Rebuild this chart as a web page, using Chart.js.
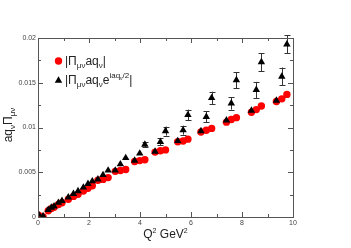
<!DOCTYPE html>
<html>
<head>
<meta charset="utf-8">
<script src="https://cdn.jsdelivr.net/npm/chart.js@4"></script>
<style>
html,body{margin:0;padding:0;background:#fff;}
#c{display:block;}
</style>
</head>
<body>
<canvas id="c" width="351" height="248"></canvas>
<script>
// Q^2 values (GeV^2)
const q2 = [0.02, 0.2, 0.4, 0.52, 0.63, 0.8, 0.94, 1.19, 1.39, 1.57, 1.78, 1.96, 2.13, 2.35, 2.55, 2.75,
  3.03, 3.23, 3.44, 3.79, 3.99, 4.19, 4.59, 4.8, 5.0, 5.48, 5.69, 5.88, 6.39, 6.6, 6.81,
  7.39, 7.58, 7.78, 8.37, 8.56, 8.76, 9.35, 9.56, 9.76];
// |Pi_mu_nu a q_nu|
const absPiAq = [0.0002, 0.0000, 0.0007, 0.00094, 0.0011, 0.0014, 0.0016, 0.00198, 0.0023, 0.00254, 0.0029, 0.0032,
  0.0035, 0.0041, 0.0042, 0.0044, 0.0051, 0.0052, 0.0053, 0.0062, 0.0063, 0.0064, 0.00725, 0.0074, 0.0075,
  0.0084, 0.0085, 0.0087, 0.0095, 0.0097, 0.0099, 0.0106, 0.0109, 0.0111, 0.0117, 0.0120, 0.0124,
  0.0129, 0.0132, 0.0137];
// |Pi_mu_nu a q_nu e^{i a q_nu / 2}|
const absPiAqPhase = [0.0003, 0.0001, 0.0008, 0.00105, 0.0012, 0.0016, 0.0018, 0.0022, 0.0026, 0.0029, 0.0033, 0.0037,
  0.0040, 0.0042, 0.0047, 0.0052, 0.0052, 0.0059, 0.0066, 0.0063, 0.0071, 0.0081, 0.0073, 0.0084, 0.0096,
  0.0085, 0.0097, 0.0114, 0.0096, 0.0112, 0.0133, 0.0108, 0.0127, 0.0153, 0.0119, 0.0142, 0.0173,
  0.0130, 0.0157, 0.0193];
// error of the phase-corrected values
const absPiAqPhaseErr = [0.0001, 0.0001, 0.0001, 0.0001, 0.0001, 0.0001, 0.0001, 0.0001, 0.0001, 0.0001, 0.0001, 0.0001,
  0.0001, 0.0001, 0.0001, 0.0001, 0.0001, 0.0002, 0.0002, 0.0001, 0.0002, 0.0003, 0.0001, 0.0004, 0.0005,
  0.0002, 0.0005, 0.0006, 0.0002, 0.0006, 0.0007, 0.0002, 0.0007, 0.0009, 0.0002, 0.0009, 0.0010,
  0.0002, 0.0010, 0.0010];
const xTicks = [0, 2, 4, 6, 8, 10];
const yTicks = [0, 0.005, 0.01, 0.015, 0.02];
const yTickLabels = ['0', '0.005', '0.01', '0.015', '0.02'];

const FONT = '"Liberation Sans", Arial, Helvetica, sans-serif';

function drawRich(ctx, parts, x, y, align) {
  let w = 0;
  parts.forEach(p => { ctx.font = p.size + 'px ' + FONT; w += ctx.measureText(p.t).width; });
  let cx = align === 'center' ? x - w / 2 : x;
  ctx.textAlign = 'left';
  ctx.textBaseline = 'alphabetic';
  parts.forEach(p => {
    ctx.font = p.size + 'px ' + FONT;
    ctx.fillText(p.t, cx, y + (p.dy || 0));
    cx += ctx.measureText(p.t).width;
  });
}

const deco = {
  id: 'deco',
  beforeDatasetsDraw(chart) {
    const ctx = chart.ctx, xs = chart.scales.x, ys = chart.scales.y;
    ctx.save();
    ctx.strokeStyle = '#333';
    ctx.lineWidth = 1;
    for (let i = 0; i < q2.length; i++) {
      const px = Math.round(xs.getPixelForValue(q2[i])) + 0.5;
      const y1 = ys.getPixelForValue(absPiAqPhase[i] + absPiAqPhaseErr[i]);
      const y2 = ys.getPixelForValue(absPiAqPhase[i] - absPiAqPhaseErr[i]);
      if (y2 - y1 < 4) continue;
      ctx.beginPath();
      ctx.moveTo(px, y1); ctx.lineTo(px, y2);
      ctx.moveTo(px - 3, Math.round(y1) + 0.5); ctx.lineTo(px + 3, Math.round(y1) + 0.5);
      ctx.moveTo(px - 3, Math.round(y2) + 0.5); ctx.lineTo(px + 3, Math.round(y2) + 0.5);
      ctx.stroke();
    }
    ctx.restore();
  },
  afterDraw(chart) {
    const ctx = chart.ctx, a = chart.chartArea, xs = chart.scales.x, ys = chart.scales.y;
    ctx.save();
    // frame
    ctx.strokeStyle = '#555';
    ctx.lineWidth = 1;
    ctx.strokeRect(Math.round(a.left) + 0.5, Math.round(a.top) + 0.5,
      Math.round(a.right - a.left), Math.round(a.bottom - a.top));
    // inner ticks
    ctx.beginPath();
    for (let v = 0; v <= 10; v += 1) {
      const px = Math.round(xs.getPixelForValue(v)) + 0.5;
      const L = v % 2 === 0 ? 5 : 3;
      ctx.moveTo(px, a.bottom); ctx.lineTo(px, a.bottom - L);
      ctx.moveTo(px, a.top); ctx.lineTo(px, a.top + L);
    }
    for (let k = 0; k <= 8; k++) {
      const v = k * 0.0025;
      const py = Math.round(ys.getPixelForValue(v)) + 0.5;
      const L = k % 2 === 0 ? 5 : 3;
      ctx.moveTo(a.left, py); ctx.lineTo(a.left + L, py);
      ctx.moveTo(a.right, py); ctx.lineTo(a.right - L, py);
    }
    ctx.stroke();

    ctx.fillStyle = '#222';
    // x title
    drawRich(ctx, [
      {t: 'Q', size: 12}, {t: '2', size: 7, dy: -5}, {t: ' GeV', size: 12}, {t: '2', size: 7, dy: -5}
    ], (a.left + a.right) / 2, 238, 'center');
    // y title
    ctx.save();
    ctx.translate(9, 125);
    ctx.rotate(-Math.PI / 2);
    drawRich(ctx, [
      {t: 'aq', size: 12}, {t: 'ν', size: 8, dy: 3}, {t: 'Π', size: 12}, {t: 'μν', size: 8, dy: 3}
    ], 0, 3, 'center');
    ctx.restore();

    // legend
    ctx.fillStyle = '#ff0000';
    ctx.beginPath();
    ctx.arc(58.5, 61, 3.7, 0, Math.PI * 2);
    ctx.fill();
    ctx.fillStyle = '#000';
    ctx.beginPath();
    const r = 4.3, tx = 58.5, ty = 80.5;
    ctx.moveTo(tx, ty - r);
    ctx.lineTo(tx + r * 0.866, ty + r * 0.5);
    ctx.lineTo(tx - r * 0.866, ty + r * 0.5);
    ctx.closePath();
    ctx.fill();

    ctx.fillStyle = '#222';
    drawRich(ctx, [
      {t: '|Π', size: 12}, {t: 'μν', size: 8, dy: 3}, {t: 'aq', size: 12}, {t: 'ν', size: 8, dy: 3}, {t: '|', size: 12}
    ], 65, 65, 'left');
    drawRich(ctx, [
      {t: '|Π', size: 12}, {t: 'μν', size: 8, dy: 3}, {t: 'aq', size: 12}, {t: 'ν', size: 8, dy: 3},
      {t: 'e', size: 12}, {t: 'iaq', size: 8, dy: -6}, {t: 'ν', size: 5, dy: -4}, {t: '/2', size: 8, dy: -6},
      {t: '|', size: 12}
    ], 65, 84, 'left');
    ctx.restore();
  }
};

new Chart(document.getElementById('c'), {
  type: 'scatter',
  data: {
    datasets: [
      {
        label: '|Π_μν aq_ν|',
        data: q2.map((x, i) => ({x: x, y: absPiAq[i]})),
        pointStyle: 'circle',
        pointRadius: 3.7,
        backgroundColor: '#ff0000',
        borderColor: '#ff0000',
        borderWidth: 0,
        order: 2
      },
      {
        label: '|Π_μν aq_ν e^{iaq_ν/2}|',
        data: q2.map((x, i) => ({x: x, y: absPiAqPhase[i]})),
        pointStyle: 'triangle',
        pointRadius: 4.3,
        backgroundColor: '#000',
        borderColor: '#000',
        borderWidth: 0,
        order: 1
      }
    ]
  },
  options: {
    responsive: false,
    animation: false,
    devicePixelRatio: 1,
    layout: {padding: {left: 0, top: 38, right: 58, bottom: 0}},
    plugins: {legend: {display: false}, tooltip: {enabled: false}},
    scales: {
      x: {
        type: 'linear', min: 0, max: 10,
        afterBuildTicks: s => { s.ticks = xTicks.map(v => ({value: v})); },
        ticks: {font: {size: 7, family: FONT}, color: '#444', padding: 2, maxRotation: 0,
          callback: v => String(v)},
        grid: {display: false, drawTicks: false},
        border: {display: false},
        afterFit: s => { s.height = 31; }
      },
      y: {
        type: 'linear', min: 0, max: 0.02,
        afterBuildTicks: s => { s.ticks = yTicks.map(v => ({value: v})); },
        ticks: {font: {size: 7, family: FONT}, color: '#444', padding: 2,
          callback: (v) => { const i = yTicks.findIndex(t => Math.abs(t - v) < 1e-9); return i >= 0 ? yTickLabels[i] : ''; }},
        grid: {display: false, drawTicks: false},
        border: {display: false},
        afterFit: s => { s.width = 38; }
      }
    }
  },
  plugins: [deco]
});
</script>
</body>
</html>
